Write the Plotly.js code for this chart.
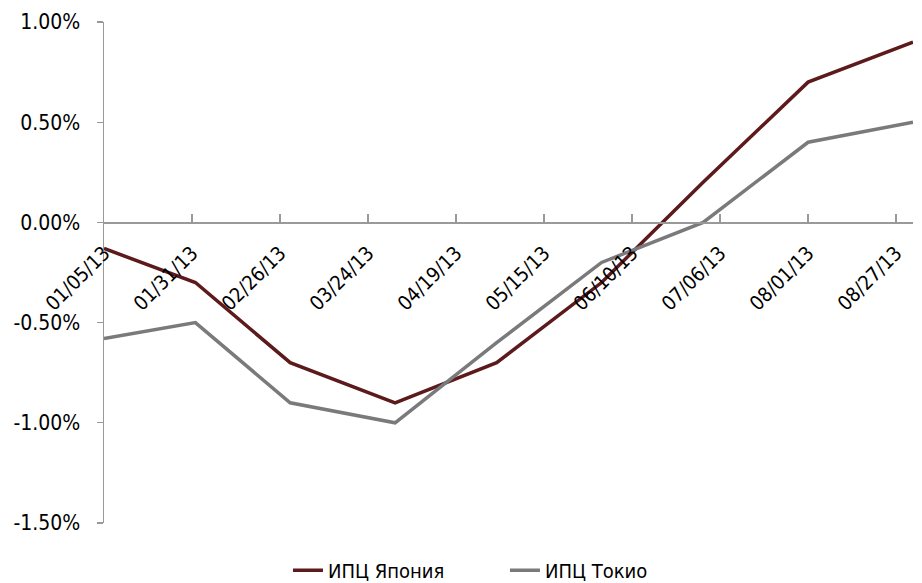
<!DOCTYPE html>
<html><head><meta charset="utf-8">
<script src="https://cdn.plot.ly/plotly-3.0.1.min.js"></script>
<style>body{margin:0;background:#fff}#c{width:922px;height:583px}</style>
</head><body><div id="c"></div>
<script>
const dates = ['2013-01-05','2013-02-01','2013-03-01','2013-04-01','2013-05-01','2013-06-01','2013-07-01','2013-08-01','2013-09-01'];
const japan = [-0.0013,-0.0030,-0.0070,-0.0090,-0.0070,-0.0030,0.0020,0.0070,0.0090];
const tokyo = [-0.0058,-0.0050,-0.0090,-0.0100,-0.0060,-0.0020,0.0000,0.0040,0.0050];
const yTickVals = [-0.015,-0.010,-0.005,0,0.005,0.010];
const yTickText = ['-1.50%','-1.00%','-0.50%','0.00%','0.50%','1.00%'];
const names = ['ИПЦ Япония','ИПЦ Токио'];

const FONT = '"DejaVu Sans Condensed", "Liberation Sans Narrow", sans-serif';
const data = [
  {x: dates, y: japan, name: names[0], type:'scatter', mode:'lines', line:{color:'#5c1a1c', width:3.5}},
  {x: dates, y: tokyo, name: names[1], type:'scatter', mode:'lines', line:{color:'#7a7a7c', width:3.5}}
];
const layout = {
  width:922, height:583,
  margin:{l:104, r:9, t:22, b:60, autoexpand:false},
  paper_bgcolor:'#fff', plot_bgcolor:'#fff',
  font:{family:FONT, size:20, color:'#000'},
  showlegend:true,
  legend:{orientation:'h', x:0.2274, xanchor:'left', yref:'container', y:0.022, yanchor:'middle',
    font:{size:20}, tracegroupgap:0, entrywidth:172, entrywidthmode:'pixels'},
  xaxis:{type:'date', range:['2013-01-05','2013-09-01'], tick0:'2013-01-05', dtick:26*86400000,
    tickformat:'%m/%d/%y', tickangle:-45, ticks:'inside', ticklen:8, tickcolor:'#999', tickwidth:1.3,
    showline:true, linecolor:'#999', linewidth:1.5, showgrid:false, zeroline:false,
    anchor:'free', position:301/501, tickfont:{size:20}, ticklabelstandoff:10, automargin:false},
  yaxis:{range:[-0.015,0.010], tickvals:yTickVals, ticktext:yTickText, ticks:'outside', ticklen:6,
    tickcolor:'#999', tickwidth:1.3, showline:true, linecolor:'#999', linewidth:1.5,
    showgrid:false, zeroline:false, tickfont:{size:21}, ticklabelstandoff:12, automargin:false}
};
Plotly.newPlot('c', data, layout, {displayModeBar:false, staticPlot:true});
</script></body></html>
